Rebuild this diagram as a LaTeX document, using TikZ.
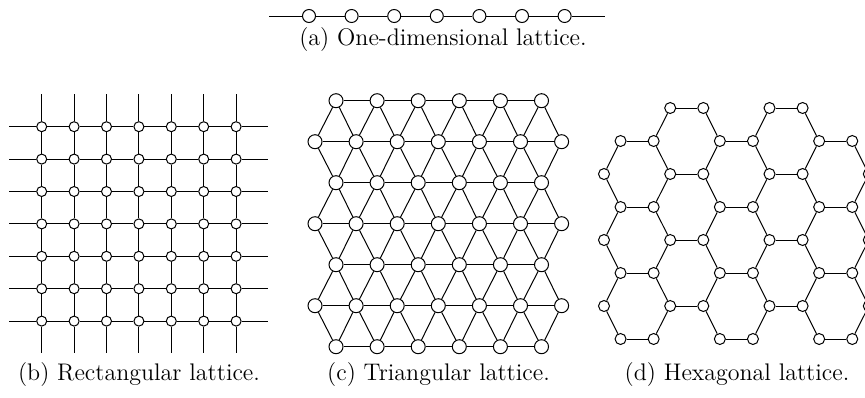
\documentclass[tikz,border=0pt]{standalone}
\usepackage{tikz}
\tikzset{
  site/.style={circle, draw, fill=white, inner sep=0pt, line width=0.5pt},
  bond/.style={line width=0.5pt, black},
  subcap/.style={anchor=base},
}

\begin{document}
\begin{tikzpicture}[x=0.5pt, y=-0.5pt, font=\fontsize{12}{14}\selectfont]
\clip (0,0) rectangle (865,397);

% (a) one-dimensional
\foreach \i in {0,...,6}
  \node[site, minimum size=6.5pt] (a\i) at ({309+42.6*\i},16) {};
\coordinate (aw) at (269,16);
\coordinate (ae) at (605,16);
\draw[bond] (aw) -- (a0) -- (a1) -- (a2) -- (a3) -- (a4) -- (a5) -- (a6) -- (ae);
\node[subcap] (capa) at (443,45) {(a) One-dimensional lattice.};

% (b) rectangular
\foreach \i in {0,...,6}
  \foreach \j in {0,...,6}
    \node[site, minimum size=5pt] (b\i-\j) at ({41.7+32.4*\i},{126.7+32.4*\j}) {};
\foreach \j in {0,...,6} {
  \coordinate (bw\j) at (9.3,{126.7+32.4*\j});
  \coordinate (be\j) at (268.4,{126.7+32.4*\j});
  \coordinate (bn\j) at ({41.7+32.4*\j},94.3);
  \coordinate (bs\j) at ({41.7+32.4*\j},353);
  \draw[bond] (bw\j) -- (b0-\j);
  \draw[bond] (b6-\j) -- (be\j);
  \draw[bond] (bn\j) -- (b\j-0);
  \draw[bond] (b\j-6) -- (bs\j);
  \foreach \i [count=\k] in {0,...,5} {
    \draw[bond] (b\i-\j) -- (b\k-\j);
    \draw[bond] (b\j-\i) -- (b\j-\k);
  }
}
\node[subcap] (capb) at (139,380) {(b) Rectangular lattice.};

% (c) triangular
\foreach \r in {0,2,4,6}
  \foreach \i in {0,...,5}
    \node[site, minimum size=7pt] (c\r-\i) at ({336+41.1*\i},{100.7+41*\r}) {};
\foreach \r in {1,3,5}
  \foreach \i in {0,...,6}
    \node[site, minimum size=7pt] (c\r-\i) at ({315+41.1*\i},{100.7+41*\r}) {};
\foreach \r in {0,2,4,6}
  \foreach \i [count=\k] in {0,...,4}
    \draw[bond] (c\r-\i) -- (c\r-\k);
\foreach \s in {1,3,5} {
  \foreach \i [count=\k] in {0,...,5}
    \draw[bond] (c\s-\i) -- (c\s-\k);
  \foreach \d [evaluate=\d as \r using int(\s+\d)] in {-1,1}
    \foreach \i [count=\k] in {0,...,5} {
      \draw[bond] (c\r-\i) -- (c\s-\i);
      \draw[bond] (c\r-\i) -- (c\s-\k);
    }
}
\node[subcap] (capc) at (438.5,380) {(c) Triangular lattice.};

% (d) hexagonal
\foreach \x in {4,6,10,12}
  \node[site, minimum size=5.5pt] (h\x-0) at ({604+16.55*\x},108) {};
\foreach \L in {2,4,6}
  \foreach \x in {0,4,6,10,12,16}
    \node[site, minimum size=5.5pt] (h\x-\L) at ({604+16.55*\x},{108+33*\L}) {};
\foreach \L in {1,3,5,7}
  \foreach \x in {1,3,7,9,13,15}
    \node[site, minimum size=5.5pt] (h\x-\L) at ({604+16.55*\x},{108+33*\L}) {};
\foreach \L in {0,2,4,6}
  \foreach \a/\b in {4/6,10/12}
    \draw[bond] (h\a-\L) -- (h\b-\L);
\foreach \L [evaluate=\L as \U using int(\L-1)] in {1,3,5,7} {
  \foreach \a/\b in {1/3,7/9,13/15}
    \draw[bond] (h\a-\L) -- (h\b-\L);
  \foreach \a/\b in {3/4,7/6,9/10,13/12}
    \draw[bond] (h\a-\L) -- (h\b-\U);
}
\foreach \L [evaluate=\L as \D using int(\L+1)] in {1,3,5}
  \foreach \a/\b in {3/4,7/6,9/10,13/12,1/0,15/16}
    \draw[bond] (h\a-\L) -- (h\b-\D);
\foreach \L [evaluate=\L as \U using int(\L-1)] in {3,5,7}
  \foreach \a/\b in {1/0,15/16}
    \draw[bond] (h\a-\L) -- (h\b-\U);
\node[subcap] (capd) at (737,380) {(d) Hexagonal lattice.};
\end{tikzpicture}
\end{document}
